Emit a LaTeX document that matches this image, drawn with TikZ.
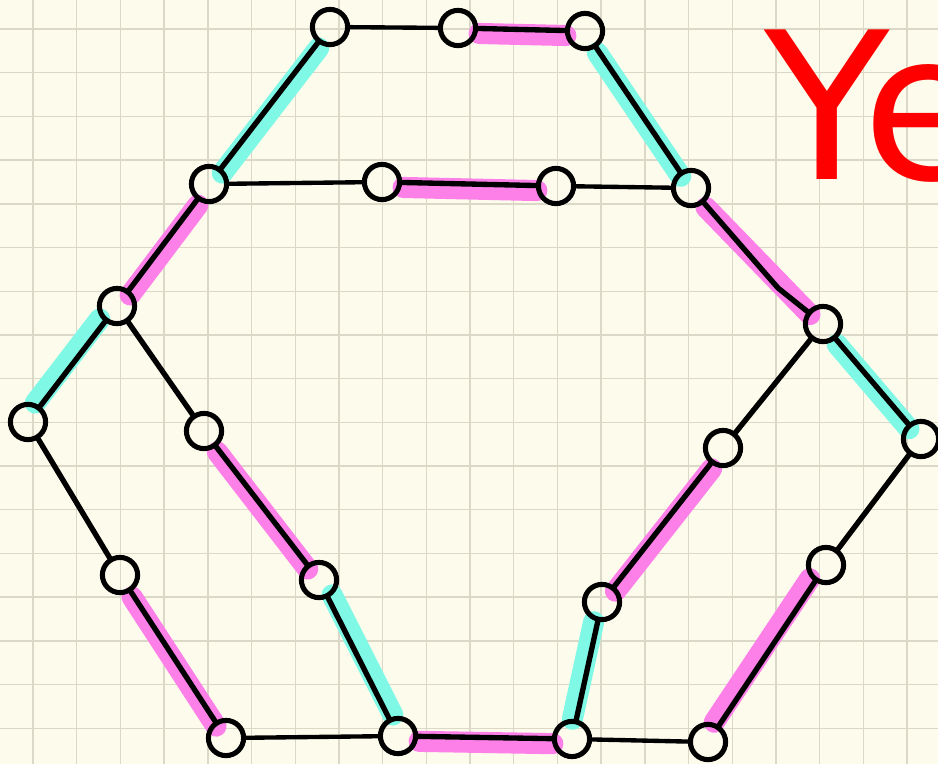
\documentclass[tikz,border=0pt]{standalone}
\usepackage{fontspec}
\usepackage{xcolor}
\usepackage{tikz}
\usetikzlibrary{backgrounds}
\newfontfamily\wordfont{DejaVu Sans}
\definecolor{paper}{HTML}{FDFBEC}
\definecolor{gridTan}{HTML}{DCD8C8}
\definecolor{hlCyan}{HTML}{80F8E6}
\definecolor{hlPink}{HTML}{FC80E8}

\begin{document}
\begin{tikzpicture}[
  x=0.025cm, y=-0.025cm,
  vtx/.style={draw, circle, line width=3.6pt, minimum size=0.88cm, inner sep=0pt},
  edge/.style={line width=3.8pt, line cap=round},
  thinedge/.style={line width=3.1pt, line cap=round},
  marker/.style={line width=15pt, line cap=round},
  cyanpath/.style={marker, draw=hlCyan, transform canvas={shift={#1}}},
  cyanpath/.default={(1,5)},
  pinkpath/.style={marker, draw=hlPink, transform canvas={shift={#1}}},
  pinkpath/.default={(1,5)},
  gridline/.style={draw=gridTan, line width=1pt},
]
\useasboundingbox (0,0) rectangle (938,764);

\node[anchor=base west, inner sep=0pt, text=red, font=\wordfont\fontsize{146}{146}\selectfont] (word) at (764,179) {Ye};

% vertices
\node[vtx] (a1) at (330,27) {};
\node[vtx] (a2) at (458,28) {};
\node[vtx] (a3) at (585,31) {};
\node[vtx] (b1) at (209,184) {};
\node[vtx] (b2) at (382,182) {};
\node[vtx] (b3) at (556,186) {};
\node[vtx] (b4) at (691,188) {};
\node[vtx] (c1) at (117,306) {};
\node[vtx] (d1) at (823,324) {};
\node[vtx] (e1) at (28,422) {};
\node[vtx] (f1) at (204,431) {};
\node[vtx] (p1) at (921,439) {};
\node[vtx] (n1) at (723,448) {};
\node[vtx] (g1) at (120,575) {};
\node[vtx] (h1) at (319,580) {};
\node[vtx] (o1) at (826,565) {};
\node[vtx] (m1) at (602,602) {};
\node[vtx] (i1) at (226,738) {};
\node[vtx] (j1) at (398,736) {};
\node[vtx] (k1) at (572,739) {};
\node[vtx] (l1) at (708,742) {};
\coordinate (bend) at (778,288);

\begin{scope}[on background layer]
\fill[paper] (0,0) rectangle (938,764);
\foreach \i in {0,...,20}
  \draw[gridline] ({33+43.7*\i},0) -- ++(0,764);
\foreach \j in {0,...,17}
  \draw[gridline] (0,{29+43.7*\j}) -- ++(938,0);

% highlighted stretches
\draw[pinkpath] (a2) -- (a3);
\draw[cyanpath] (a1) -- (b1);
\draw[cyanpath] (a3) -- (b4);
\draw[pinkpath] (b2) -- (b3);
\draw[pinkpath] (b1) -- (c1);
\draw[pinkpath] (b4) -- (d1);
\draw[cyanpath] (d1) -- (p1);
\draw[cyanpath={(-5,-3)}] (c1) -- (e1);
\draw[pinkpath] (g1) -- (i1);
\draw[pinkpath] (f1) -- (h1);
\draw[cyanpath={(4,-3)}] (h1) -- (j1);
\draw[pinkpath] (j1) -- (k1);
\draw[cyanpath={(-4,0)}] (k1) -- (m1);
\draw[pinkpath] (m1) -- (n1);
\draw[pinkpath={(-5,-3)}] (o1) -- (l1);
\end{scope}

% edges
\draw[thinedge] (a1) -- (a2);
\draw[edge] (a2) -- (a3);
\draw[edge] (a1) -- (b1);
\draw[edge] (a3) -- (b4);
\draw[thinedge] (b1) -- (b2);
\draw[edge] (b2) -- (b3);
\draw[thinedge] (b3) -- (b4);
\draw[edge] (b1) -- (c1);
\draw[edge] (b4) -- (bend) -- (d1);
\draw[edge] (d1) -- (p1);
\draw[edge] (c1) -- (e1);
\draw[edge] (c1) -- (f1);
\draw[edge] (e1) -- (g1);
\draw[edge] (g1) -- (i1);
\draw[edge] (f1) -- (h1);
\draw[edge] (h1) -- (j1);
\draw[thinedge] (i1) -- (j1);
\draw[edge] (j1) -- (k1);
\draw[thinedge] (k1) -- (l1);
\draw[edge] (k1) -- (m1);
\draw[edge] (m1) -- (n1);
\draw[edge] (n1) -- (d1);
\draw[edge] (p1) -- (o1);
\draw[edge] (o1) -- (l1);
\end{tikzpicture}
\end{document}
